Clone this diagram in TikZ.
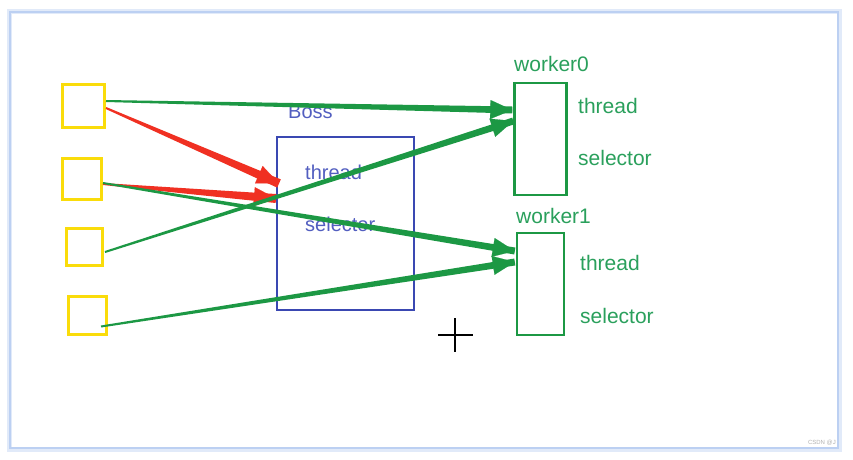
\documentclass[tikz,border=0pt]{standalone}
\usepackage{fontspec}
\setmainfont{Liberation Sans}
\usetikzlibrary{arrows.meta, calc}

\definecolor{clientyellow}{RGB}{250,220,10}
\definecolor{bossblue}{RGB}{58,72,178}
\definecolor{bosstext}{RGB}{82,94,192}
\definecolor{workgreen}{RGB}{28,152,68}
\definecolor{worktext}{RGB}{42,160,92}
\definecolor{arrowred}{RGB}{240,48,34}
\definecolor{frameblue}{RGB}{188,208,242}

% tapered hand-drawn arrow: colour, start, tip, half width at tip
\newcommand{\taperarrow}[4]{%
  \fill[#1] ($(#2)!1pt!90:(#3)$) -- ($(#3)!#4!-90:(#2)$)
    -- ($(#3)!#4!90:(#2)$) -- ($(#2)!1pt!-90:(#3)$) -- cycle;
  \draw[#1, line width=0.1pt, -{Triangle[length=22pt,width=19pt]}]
    ($(#3)!23pt!(#2)$) -- (#3);
}

\tikzset{
  client/.style={draw=clientyellow, line width=3pt, minimum width=40pt,
    minimum height=42pt, inner sep=0pt},
  bossbox/.style={draw=bossblue, line width=2pt, minimum width=137pt,
    minimum height=173pt, inner sep=0pt},
  workerbox/.style={draw=workgreen, line width=2.4pt, minimum width=52pt, inner sep=0pt},
  bosslabel/.style={text=bosstext, font=\fontsize{20}{22}\selectfont,
    anchor=west, inner sep=0pt},
  workerlabel/.style={text=worktext, font=\fontsize{21}{23}\selectfont,
    anchor=west, inner sep=0pt},
}

\begin{document}
\begin{tikzpicture}[x=1pt, y=-1pt]

\useasboundingbox (0,0) rectangle (853,459);
\fill[white] (0,0) rectangle (853,459);

% Window frame
\draw[frameblue!45, line width=7pt] (10,12) rectangle (838,448);
\draw[frameblue, line width=2.5pt] (10,12) rectangle (838,448);
\fill[white] (11.5,13.5) rectangle (836.5,446.5);

% Clients
\node[client, minimum width=42pt, minimum height=43pt] (c1) at (83.5,106) {};
\node[client, minimum width=39pt, minimum height=41pt] (c2) at (82,179) {};
\node[client, minimum width=36pt, minimum height=37pt] (c3) at (84.5,247) {};
\node[client, minimum width=38pt, minimum height=38pt] (c4) at (87.5,315.5) {};

% Boss group
\node[bossbox] (boss) at (345.5,223.5) {};
\node[bosslabel] (bossname) at (288,112) {Boss};
\node[bosslabel] (bossthread) at (305,172) {thread};
\node[bosslabel] (bossselector) at (305,224) {selector};

% Worker groups
\node[workerbox, minimum height=112pt] (w0) at (540.5,139) {};
\node[workerlabel] (w0name) at (514,64) {worker0};
\node[workerlabel] (w0thread) at (578,106) {thread};
\node[workerlabel] (w0selector) at (578,158) {selector};

\node[workerbox, minimum width=47pt, minimum height=102pt] (w1) at (540.5,284) {};
\node[workerlabel] (w1name) at (516,216) {worker1};
\node[workerlabel] (w1thread) at (580,263) {thread};
\node[workerlabel] (w1selector) at (580,316) {selector};

% Arrow end points
\coordinate (r1s) at ($(c1.east)+(0,2)$);
\coordinate (r1e) at ($(boss.west)+(3,-40)$);
\coordinate (r2s) at ($(c2.east)+(0,5)$);
\coordinate (r2e) at ($(boss.west)+(0,-25)$);
\coordinate (g1s) at ($(c1.east)+(0,-5)$);
\coordinate (g1e) at ($(w0.west)+(-1,-29)$);
\coordinate (g2s) at ($(c3.east)+(1,5)$);
\coordinate (g2e) at ($(w0.west)+(0,-18)$);
\coordinate (g3s) at ($(c2.east)+(0,4)$);
\coordinate (g3e) at ($(w1.west)+(-1,-33)$);
\coordinate (g4s) at ($(c4.east)+(-7,11)$);
\coordinate (g4e) at ($(w1.west)+(-1,-22)$);

% Clients to boss
\taperarrow{arrowred}{r1s}{r1e}{4.5pt}
\taperarrow{arrowred}{r2s}{r2e}{4.5pt}

% Clients to workers
\taperarrow{workgreen}{g1s}{g1e}{3.5pt}
\taperarrow{workgreen}{g2s}{g2e}{3.5pt}
\taperarrow{workgreen}{g3s}{g3e}{3.5pt}
\taperarrow{workgreen}{g4s}{g4e}{3.5pt}

% Mouse cursor
\draw[line width=1.8pt] (438,335) -- (473,335) (455,318) -- (455,352);

% Watermark
\node[text=gray!60, font=\fontsize{6}{6}\selectfont, anchor=east, inner sep=0pt]
  (mark) at (836,443) {CSDN @J};

\end{tikzpicture}
\end{document}
